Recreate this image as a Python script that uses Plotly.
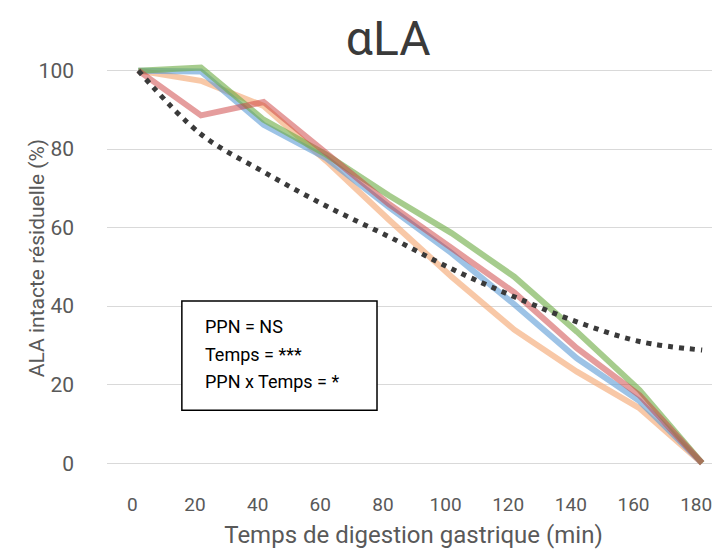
import plotly.graph_objects as go

# temps de digestion (min)
temps = [0, 20, 40, 60, 80, 100, 120, 140, 160, 180]

# ALA intacte residuelle (%) par serie
serie_orange = [100, 97.4, 91, 77, 62, 47.5, 34, 23.3, 14, 0]
serie_bleu = [100, 99.8, 86.2, 77.7, 65.2, 53.5, 40.5, 26.7, 15.8, 0]
serie_vert = [100, 100.8, 87.5, 78.6, 68.2, 58.6, 47.5, 33.5, 18.6, 0]
serie_rouge = [100, 88.6, 92, 79, 66, 54.8, 43.5, 29.3, 17.3, 0]
tendance = [100, 83.8, 74.2, 65.5, 57.7, 49.5, 42.4, 36, 31, 28.8]

stats_lignes = ["PPN = NS", "Temps = ***", "PPN x Temps = *"]

FONT = "Roboto, sans-serif"
GRIS = "#595959"

fig = go.Figure()

series = [
    (serie_orange, "rgba(244,170,120,0.65)"),
    (serie_bleu, "rgba(91,155,213,0.6)"),
    (serie_vert, "rgba(112,173,71,0.62)"),
    (serie_rouge, "rgba(204,60,60,0.5)"),
]
for vals, couleur in series:
    fig.add_trace(go.Scatter(
        x=temps, y=vals, mode="lines",
        line=dict(color=couleur, width=6),
        showlegend=False, hoverinfo="skip",
    ))

fig.add_trace(go.Scatter(
    x=temps, y=tendance, mode="lines",
    line=dict(color="#3a3a3a", width=5, dash="5px,6px", shape="spline"),
    showlegend=False, hoverinfo="skip",
))

# encadre des statistiques
fig.add_shape(type="rect", xref="x", yref="y",
              x0=13.9, x1=76.2, y0=13.5, y1=41.3,
              line=dict(color="black", width=1.5), fillcolor="white", layer="above")

for i, txt in enumerate(stats_lignes):
    fig.add_annotation(x=20.6, y=34.8 - i * 7.0, xref="x", yref="y",
                       text=txt, showarrow=False, xanchor="left", yanchor="middle",
                       font=dict(family=FONT, size=18, color="black"))

# titre de l'axe y place a la main (plus pres des etiquettes)
fig.add_annotation(x=-0.114, y=0.507, xref="paper", yref="paper",
                   text="ALA intacte résiduelle (%)", showarrow=False, textangle=-90,
                   xanchor="center", yanchor="middle",
                   font=dict(family=FONT, size=21, color=GRIS))

# la page ajoute une marge de 8px : la figure fait 712x544
fig.update_layout(
    width=712, height=544,
    margin=dict(l=99, r=0, t=43, b=81),
    plot_bgcolor="white", paper_bgcolor="white",
    font=dict(family=FONT, color=GRIS),
    title=dict(text="αLA", x=0.534, xanchor="center", y=0.945, yanchor="middle",
               font=dict(family=FONT, size=48, color="#3a3a3a")),
)

fig.update_xaxes(
    range=[-10, 185.7], tickvals=temps, showgrid=False, zeroline=False,
    showline=False, ticks="", ticklabelstandoff=20, ticklabeloverflow="allow",
    ticklabelshift=-6,
    tickfont=dict(size=19, color=GRIS),
    title=dict(text="Temps de digestion gastrique (min)", standoff=11,
               font=dict(size=24, color=GRIS)),
)
fig.update_yaxes(
    range=[-2, 105], tickvals=[0, 20, 40, 60, 80, 100], showgrid=True,
    gridcolor="#d9d9d9", gridwidth=1, zeroline=False, showline=False, ticks="",
    ticklabelstandoff=32, tickfont=dict(size=21, color=GRIS),
)

fig.write_html("out.html")
